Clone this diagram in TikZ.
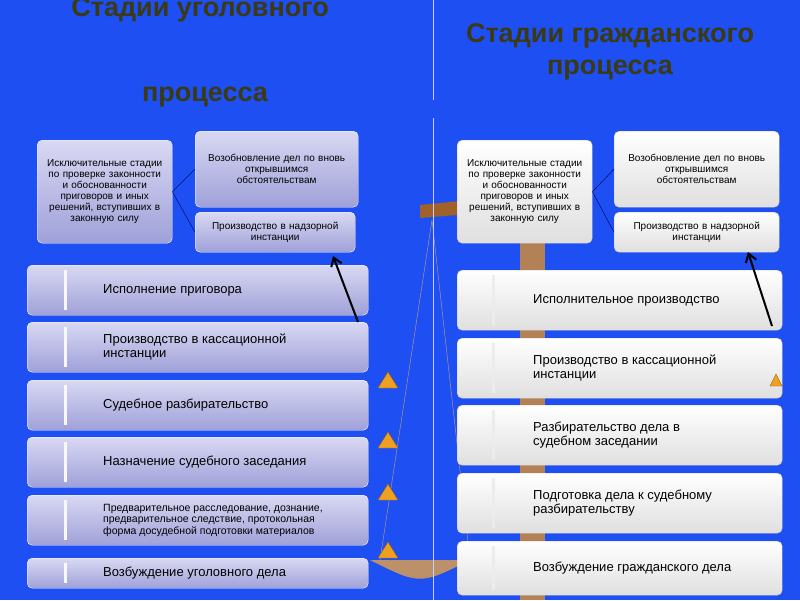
\documentclass[tikz,border=0pt]{standalone}
\usepackage{fontspec}
\setmainfont{Liberation Sans}
\usetikzlibrary{arrows.meta, positioning, calc}
\definecolor{bgblue}{HTML}{1D4FF2}
\definecolor{lav}{HTML}{C8C8EE}
\definecolor{lavdark}{HTML}{9FA0D8}
\definecolor{titleol}{HTML}{3C3A12}
\definecolor{woodbr}{HTML}{A0622A}
\definecolor{tri}{HTML}{F0A020}
\begin{document}
\begin{tikzpicture}[
        x=1pt, y=-1pt,
        % Global Styles
        lbox/.style={rectangle, draw=white, top color=lav!70!white, bottom color=lavdark, rounded corners=5pt, align=center, inner sep=2pt, font=\fontsize{10}{11}\selectfont},
        rbox/.style={rectangle, draw=gray!40, top color=white, bottom color=gray!25, rounded corners=5pt, align=center, inner sep=2pt, font=\fontsize{10}{11}\selectfont},
        lrow/.style={lbox, anchor=north west, minimum width=341pt},
        rrow/.style={rbox, anchor=north west, minimum width=325pt},
        rowtext/.style={anchor=west, align=left, inner sep=0pt, font=\fontsize{13}{14}\selectfont},
        link/.style={draw=blue!30!black, thin},
        up/.style={draw=black, -{Straight Barb[length=8pt,width=11pt]}, line width=2pt},
        title/.style={font=\fontsize{27}{32}\bfseries\selectfont, align=center},
        marker/.style={fill=tri, draw=tri!60!black}
    ]
    \useasboundingbox (0,0) rectangle (800,600);
    \fill[bgblue] (0,0) rectangle (800,600);

    % --- Scales in background ---
    \fill[woodbr] (420,205) -- (470,200) -- (470,214) -- (420,218) -- cycle;
    \fill[woodbr!80] (520,240) rectangle (545,600);
    \draw[woodbr!60, thin] (432,220) -- (380,560) (432,220) -- (470,560);
    \fill[woodbr!70] (370,560) .. controls (420,585) .. (470,560) -- cycle;

    % --- Divider ---
    \draw[white!80!blue, thick] (433,0) -- (433,100);
    \draw[white!80!blue, thick] (433,118) -- (433,600);

    % --- Titles ---
    \node[title, text=titleol] (ltitle) at (200,10) {Стадии уголовного};
    \node[title, text=titleol] (ltitle2) at (205,97) {процесса};
    \node[title, text=titleol] (rtitle) at (610,52) {Стадии гражданского\\процесса};

    % --- Left column ---
    \node[lbox, anchor=north west, minimum width=135pt, minimum height=103pt, text width=131pt] (lexc) at (37,140) {Исключительные стадии\\по проверке законности\\и обоснованности\\приговоров и иных\\решений, вступивших в\\законную силу};
    \node[lbox, anchor=north west, minimum width=163pt, minimum height=76pt, text width=159pt] (lnew) at (195,131) {Возобновление дел по вновь\\открывшимся\\обстоятельствам};
    \node[lbox, anchor=north west, minimum width=160pt, minimum height=40pt, text width=156pt] (lsup) at (195,212) {Производство в надзорной\\инстанции};
    \draw[link] (lexc.east) -- (lnew.west);
    \draw[link] (lexc.east) -- (lsup.west);

    \node[lrow, minimum height=50pt] (lexe) at (27,265) {};
    \node[lrow, minimum height=50pt] (lcas) at (27,322) {};
    \node[lrow, minimum height=50pt] (ltri) at (27,380) {};
    \node[lrow, minimum height=50pt] (lass) at (27,437) {};
    \node[lrow, minimum height=50pt] (lpre) at (27,495) {};
    \node[lrow, minimum height=30pt] (lini) at (27,558) {};
    \node[rowtext] (lexet) at ($(lexe.west)+(76,0)$) {Исполнение приговора};
    \node[rowtext] (lcast) at ($(lcas.west)+(76,0)$) {Производство в кассационной\\инстанции};
    \node[rowtext] (ltrit) at ($(ltri.west)+(76,0)$) {Судебное разбирательство};
    \node[rowtext] (lasst) at ($(lass.west)+(76,0)$) {Назначение судебного заседания};
    \node[rowtext, font=\fontsize{10.5}{11.5}\selectfont] (lpret) at ($(lpre.west)+(76,0)$) {Предварительное расследование, дознание,\\предварительное следствие, протокольная\\форма досудебной подготовки материалов};
    \node[rowtext] (linit) at ($(lini.west)+(76,0)$) {Возбуждение уголовного дела};
    \foreach \n in {lexe, lcas, ltri, lass, lpre, lini}
        \fill[white!85!lav] ($(\n.north west)+(37,5)$) rectangle ($(\n.south west)+(40,-5)$);
    \coordinate (lfoot) at (358,322);
    \coordinate (lhead) at (333,256);
    \draw[up] (lfoot) -- (lhead);

    % --- Right column ---
    \node[rbox, anchor=north west, minimum width=135pt, minimum height=103pt, text width=131pt] (rexc) at (457,140) {Исключительные стадии\\по проверке законности\\и обоснованности\\приговоров и иных\\решений, вступивших в\\законную силу};
    \node[rbox, anchor=north west, minimum width=165pt, minimum height=76pt, text width=161pt] (rnew) at (614,131) {Возобновление дел по вновь\\открывшимся\\обстоятельствам};
    \node[rbox, anchor=north west, minimum width=165pt, minimum height=40pt, text width=161pt] (rsup) at (614,212) {Производство в надзорной\\инстанции};
    \draw[link] (rexc.east) -- (rnew.west);
    \draw[link] (rexc.east) -- (rsup.west);

    \node[rrow, minimum height=60pt] (rexe) at (457,270) {};
    \node[rrow, minimum height=60pt] (rcas) at (457,338) {};
    \node[rrow, minimum height=60pt] (rtri) at (457,405) {};
    \node[rrow, minimum height=60pt] (rpre) at (457,473) {};
    \node[rrow, minimum height=54pt] (rini) at (457,541) {};
    \node[rowtext] (rexet) at ($(rexe.west)+(76,0)$) {Исполнительное производство};
    \node[rowtext] (rcast) at ($(rcas.west)+(76,0)$) {Производство в кассационной\\инстанции};
    \node[rowtext] (rtrit) at ($(rtri.west)+(76,0)$) {Разбирательство дела в\\судебном заседании};
    \node[rowtext] (rpret) at ($(rpre.west)+(76,0)$) {Подготовка дела к судебному\\разбирательству};
    \node[rowtext] (rinit) at ($(rini.west)+(76,0)$) {Возбуждение гражданского дела};
    \foreach \n in {rexe, rcas, rtri, rpre, rini}
        \fill[gray!15] ($(\n.north west)+(35,5)$) rectangle ($(\n.south west)+(38,-5)$);
    \coordinate (rfoot) at (772,326);
    \coordinate (rhead) at (748,252);
    \draw[up] (rfoot) -- (rhead);

    % --- Markers ---
    \foreach \y in {380, 440, 492, 550}
        \fill[marker] (378,\y+8) -- (398,\y+8) -- (388,\y-8) -- cycle;
    \fill[marker] (770,386) -- (782,386) -- (776,374) -- cycle;

\end{tikzpicture}
\end{document}
